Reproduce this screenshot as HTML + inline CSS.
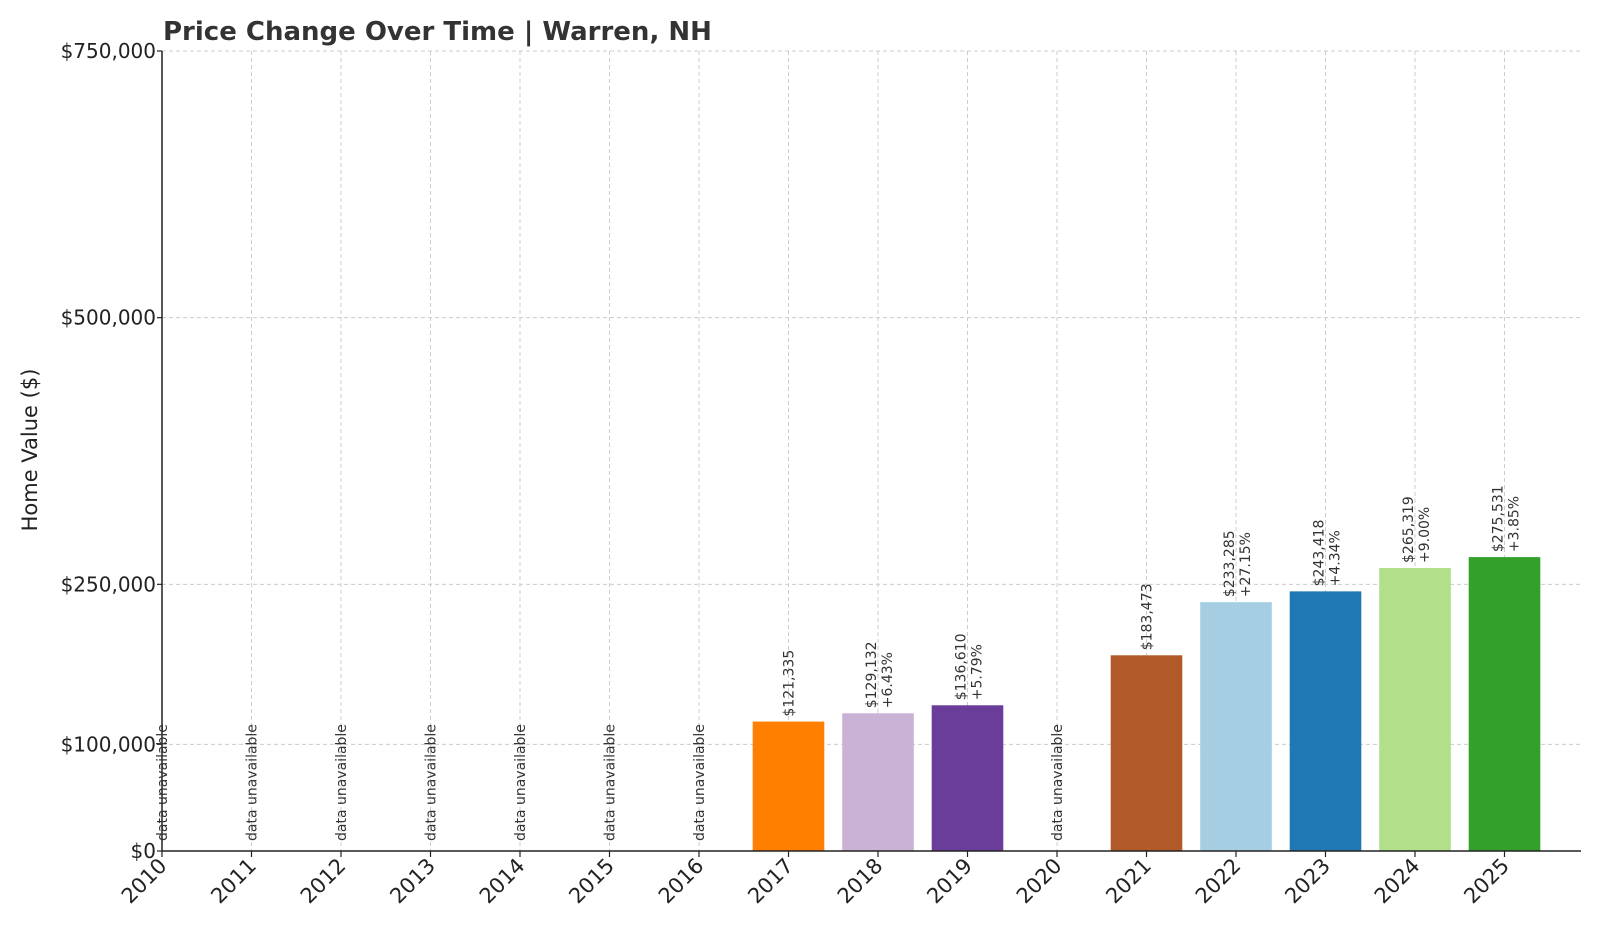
<!DOCTYPE html>
<html><head><meta charset="utf-8"><style>
html,body{margin:0;padding:0;background:#fff;}
svg{display:block;font-family:"DejaVu Sans","Liberation Sans",sans-serif;}
</style></head><body>
<svg id="chart" width="1600" height="933" viewBox="0 0 1600 933">
<text x="163" y="40" font-size="26" font-weight="bold" fill="#333">Price Change Over Time | Warren, NH</text>
<text transform="translate(37,450) rotate(-90)" text-anchor="middle" font-size="21" fill="#222">Home Value ($)</text>
<g id="grid"></g>
<g id="bars"></g>
<g id="axes"></g>
<g id="labels"></g>
</svg>
<script>
const years = [2010,2011,2012,2013,2014,2015,2016,2017,2018,2019,2020,2021,2022,2023,2024,2025];
const values = [null,null,null,null,null,null,null,121335,129132,136610,null,183473,233285,243418,265319,275531];
const valueLabels = ["","","","","","","","$121,335","$129,132","$136,610","","$183,473","$233,285","$243,418","$265,319","$275,531"];
const pctLabels = ["","","","","","","","","+6.43%","+5.79%","","","+27.15%","+4.34%","+9.00%","+3.85%"];
const colors = ["","","","","","","","#ff7f00","#cab2d6","#6a3d9a","","#b15928","#a6cee3","#1f78b4","#b2df8a","#33a02c"];
const yTicks = [0,100000,250000,500000,750000];
const yTickLabels = ["$0","$100,000","$250,000","$500,000","$750,000"];

const NS="http://www.w3.org/2000/svg";
const L=162,R=1581,T=51,B=851,step=89.5,yMax=750000,bw=step*0.8;
const xs=i=>L+i*step;
const ys=v=>B-(v/yMax)*(B-T);
function mk(tag,attrs,parent,txt){const e=document.createElementNS(NS,tag);for(const k in attrs)e.setAttribute(k,attrs[k]);if(txt!==undefined)e.textContent=txt;parent.appendChild(e);return e;}
const grid=document.getElementById('grid'),bars=document.getElementById('bars'),axes=document.getElementById('axes'),labels=document.getElementById('labels');

yTicks.forEach((v,i)=>{
  const g=mk('line',{x1:L,x2:R,y1:ys(v),y2:ys(v),stroke:'#ccc','stroke-dasharray':'4,3','stroke-width':1},grid);
  
  
  const t=mk('line',{x1:L-5,x2:L,y1:ys(v),y2:ys(v),stroke:'#222','stroke-width':1.2},axes);
  
  
  const lb=mk('text',{x:L-6,y:ys(v)+7,'text-anchor':'end','font-size':20,fill:'#222'},axes,yTickLabels[i]);
  
  
});
years.forEach((yr,i)=>{
  const x=xs(i);
  const g=mk('line',{x1:x,x2:x,y1:T,y2:B,stroke:'#ccc','stroke-dasharray':'4,3','stroke-width':1},grid);
  
  
  const v=values[i];
  if(v!==null){
    const r=mk('rect',{x:x-bw/2,y:ys(v),width:bw,height:B-ys(v),fill:colors[i]},bars);
    
    
    const top=ys(v)-5;
    if(pctLabels[i]){
      const a=mk('text',{transform:`translate(${x-2},${top}) rotate(-90)`,'font-size':14,fill:'#333'},labels,valueLabels[i]);
      
      
      const b=mk('text',{transform:`translate(${x+14},${top}) rotate(-90)`,'font-size':14,fill:'#333'},labels,pctLabels[i]);
      
      
    } else {
      const a=mk('text',{transform:`translate(${x+5},${top}) rotate(-90)`,'font-size':14,fill:'#333'},labels,valueLabels[i]);
      
      
    }
  } else {
    const a=mk('text',{transform:`translate(${x+5},${B-10}) rotate(-90)`,'font-size':14,fill:'#333'},labels,'data unavailable');
    
    
  }
  const t=mk('line',{x1:x,x2:x,y1:B,y2:B+6,stroke:'#222','stroke-width':1.2},axes);
  
  
  const lb=mk('text',{transform:`translate(${x+6},${B+16}) rotate(-45)`,'text-anchor':'end','font-size':21,fill:'#222'},axes,String(yr));
  
  
});
const ya=mk('line',{x1:L,x2:L,y1:T,y2:B,stroke:'#222','stroke-width':1.5},axes);


const xa=mk('line',{x1:L,x2:R,y1:B,y2:B,stroke:'#222','stroke-width':1.5},axes);


</script>
</body></html>
